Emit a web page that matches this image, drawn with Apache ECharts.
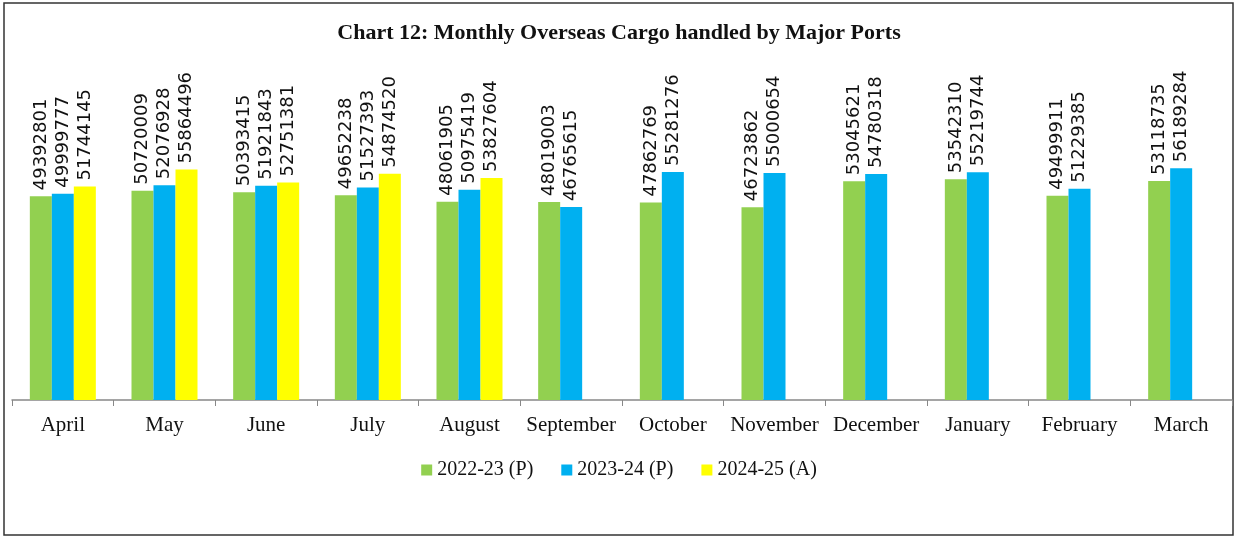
<!DOCTYPE html>
<html>
<head>
<meta charset="utf-8">
<script src="https://cdn.jsdelivr.net/npm/echarts@6/dist/echarts.min.js"></script>
<style>
  html, body { margin: 0; padding: 0; background: #fff; }
  #cargo_chart { width: 1238px; height: 538px; }
</style>
</head>
<body>
<div id="cargo_chart"></div>
<script>
// months on the x axis
var months = ['April', 'May', 'June', 'July', 'August', 'September', 'October', 'November', 'December', 'January', 'February', 'March'];
var seriesNames = ['2022-23 (P)', '2023-24 (P)', '2024-25 (A)'];
// cargo values per year
var cargo2223 = [49392801, 50720009, 50393415, 49652238, 48061905, 48019003, 47862769, 46723862, 53045621, 53542310, 49499911, 53118735];
var cargo2324 = [49999777, 52076928, 51921843, 51527393, 50975419, 46765615, 55281276, 55000654, 54780318, 55219744, 51229385, 56189284];
var cargo2425 = [51744145, 55864496, 52751381, 54874520, 53827604, null, null, null, null, null, null, null];

var colors = ['#92D050', '#00B0F0', '#FFFF00'];

var chart = echarts.init(document.getElementById('cargo_chart'));

function makeSeries (name, values, color) {
    return {
        name: name,
        type: 'bar',
        data: values,
        barWidth: 22,
        barGap: '0%',
        itemStyle: { color: color },
        label: {
            show: true,
            position: 'top',
            rotate: 90,
            align: 'left',
            verticalAlign: 'middle',
            distance: 6,
            color: '#111',
            fontFamily: 'DejaVu Sans',
            fontSize: 18
        }
    };
}

var option = {
    animation: false,
    color: colors,
    title: {
        text: 'Chart 12: Monthly Overseas Cargo handled by Major Ports',
        left: 'center',
        top: 17,
        textStyle: { fontFamily: 'Liberation Serif', fontWeight: 'bold', fontSize: 22, color: '#111' }
    },
    legend: {
        data: seriesNames,
        top: 455,
        left: 'center',
        icon: 'rect',
        itemWidth: 11,
        itemHeight: 11,
        itemGap: 28,
        textStyle: { fontFamily: 'Liberation Serif', fontSize: 20, color: '#111' }
    },
    grid: { left: 12, right: 6, top: 70, bottom: 138, containLabel: false },
    xAxis: {
        type: 'category',
        data: months,
        axisLine: { lineStyle: { color: '#888', width: 1.5 } },
        axisTick: { show: true, length: 6, lineStyle: { color: '#888' } },
        axisLabel: { interval: 0, margin: 15, fontFamily: 'Liberation Serif', fontSize: 21, color: '#111' }
    },
    yAxis: {
        type: 'value',
        min: 0,
        max: 80000000,
        show: false,
        splitLine: { show: false }
    },
    graphic: [{
        type: 'rect',
        shape: { x: 4, y: 3, width: 1229, height: 532 },
        style: { fill: 'none', stroke: '#333', lineWidth: 1.5 },
        silent: true
    }],
    series: [
        makeSeries(seriesNames[0], cargo2223, colors[0]),
        makeSeries(seriesNames[1], cargo2324, colors[1]),
        makeSeries(seriesNames[2], cargo2425, colors[2])
    ]
};

chart.setOption(option);
window.addEventListener('resize', function () {
    chart.resize();
});
</script>
</body>
</html>
